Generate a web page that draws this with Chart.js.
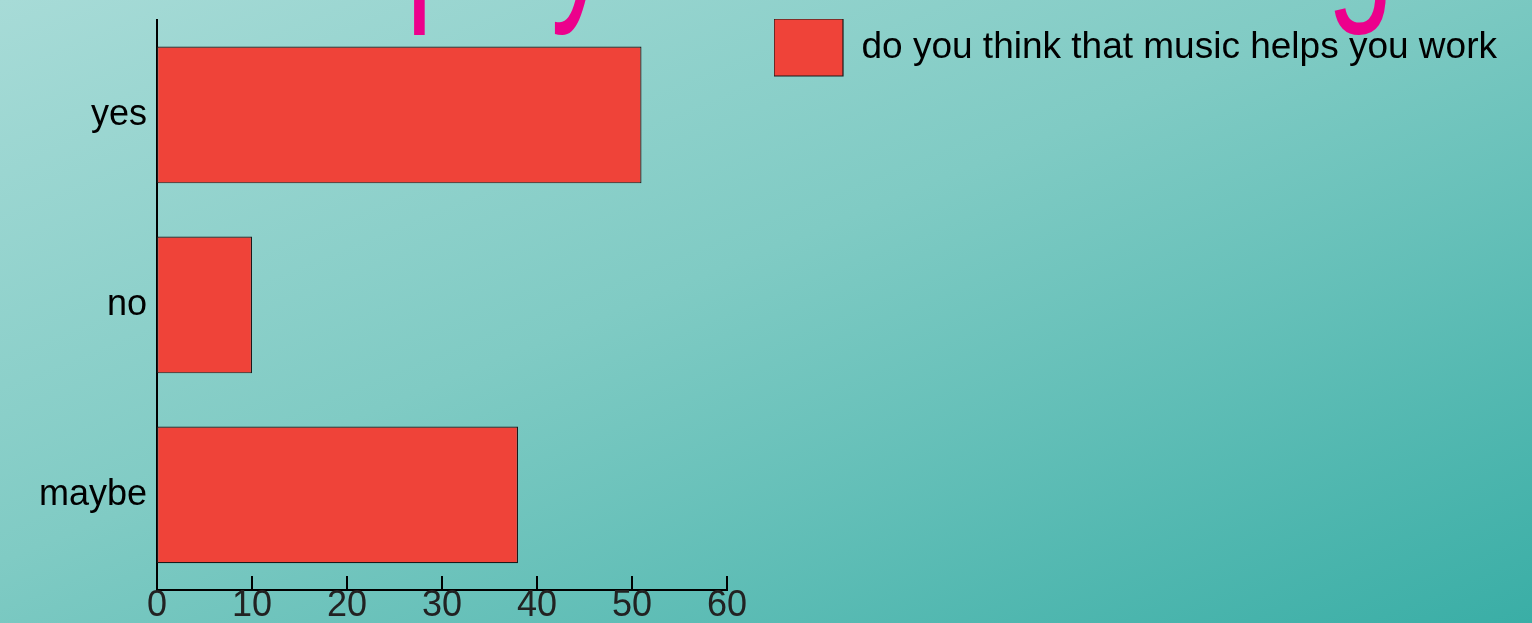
<!DOCTYPE html>
<html>
<head>
<meta charset="utf-8">
<title>music survey</title>
<script src="https://cdn.jsdelivr.net/npm/chart.js@4/dist/chart.umd.min.js"></script>
<style>
  html, body {
    margin: 0;
    padding: 0;
  }
  body {
    width: 1532px;
    height: 623px;
    overflow: hidden;
    background: linear-gradient(to bottom right, #a7dbd7 0%, #80cbc4 45%, #3aaea6 100%);
  }
  canvas {
    display: block;
  }
</style>
</head>
<body>
<canvas id="surveyChart" width="1532" height="623"></canvas>
<script>
// survey answers
const categories = ['yes', 'no', 'maybe'];
const answers = [51, 10, 38];
const seriesLabel = 'do you think that music helps you work';

// x axis range
const axisMin = 0;
const axisMax = 60;
const axisStep = 10;

// letters of the big heading that hang into the top of the slide
const headingLetters = ['p', 'y', 'g'];
const headingX = [406, 551, 1327];
const headingSqueeze = 0.65;

const barRed = '#ef4339';
const inkColor = '#000000';

// heading descenders, drawn behind the chart
const headingPlugin = {
  id: 'headingPlugin',
  beforeDraw(chart) {
    const ctx = chart.ctx;
    ctx.save();
    ctx.fillStyle = '#ec008c';
    ctx.font = '185px "Liberation Sans", Arial, sans-serif';
    ctx.textBaseline = 'alphabetic';
    ctx.scale(headingSqueeze, 1);
    headingLetters.forEach((ch, i) => {
      ctx.fillText(ch, headingX[i] / headingSqueeze, -4);
    });
    ctx.restore();
  }
};

// tick marks on the x axis point up into the plot
const innerTicks = {
  id: 'innerTicks',
  afterDraw(chart) {
    const x = chart.scales.x;
    const ctx = chart.ctx;
    const bottom = chart.chartArea.bottom;
    ctx.save();
    ctx.strokeStyle = inkColor;
    ctx.lineWidth = 2;
    x.ticks.forEach((t) => {
      const px = Math.round(x.getPixelForValue(t.value));
      ctx.beginPath();
      ctx.moveTo(px, bottom);
      ctx.lineTo(px, bottom - 14);
      ctx.stroke();
    });
    ctx.restore();
  }
};

// legend sits to the right of the plot, level with its top
const legendSpot = {
  id: 'legendSpot',
  afterLayout(chart) {
    const lg = chart.legend;
    lg.left = 774;
    lg.right = chart.width;
    lg.top = 19;
    lg.bottom = chart.height;
  }
};

const ctx = document.getElementById('surveyChart');

new Chart(ctx, {
  type: 'bar',
  data: {
    labels: categories,
    datasets: [{
      label: seriesLabel,
      data: answers,
      backgroundColor: barRed,
      borderColor: '#1a1a1a',
      borderWidth: 1.2,
      borderSkipped: false,
      barPercentage: 0.72,
      categoryPercentage: 1
    }]
  },
  options: {
    indexAxis: 'y',
    responsive: false,
    animation: false,
    devicePixelRatio: 1,
    layout: {
      padding: { top: 20, left: 29, right: 105, bottom: 0 }
    },
    plugins: {
      legend: {
        position: 'right',
        align: 'start',
        maxWidth: 700,
        labels: {
          boxWidth: 69,
          boxHeight: 57,
          padding: 0,
          color: inkColor,
          font: { family: '"Liberation Sans", Arial, sans-serif', size: 37 }
        }
      },
      tooltip: { enabled: false }
    },
    scales: {
      x: {
        min: axisMin,
        max: axisMax,
        grid: { display: false, drawTicks: false },
        border: { display: true, color: inkColor, width: 2 },
        ticks: {
          stepSize: axisStep,
          padding: 0,
          color: '#222222',
          maxRotation: 0,
          font: { family: '"Liberation Sans", Arial, sans-serif', size: 36, lineHeight: 0.92 }
        }
      },
      y: {
        grid: { display: false, drawTicks: false },
        border: { display: true, color: inkColor, width: 2 },
        ticks: {
          padding: 10,
          color: inkColor,
          font: { family: '"Liberation Sans", Arial, sans-serif', size: 36 }
        },
        afterFit(scale) {
          // the category labels sit well inside the bands, no extra room needed
          scale.paddingTop = 0;
          scale.paddingBottom = 0;
        }
      }
    }
  },
  plugins: [headingPlugin, innerTicks, legendSpot]
});
</script>
</body>
</html>
